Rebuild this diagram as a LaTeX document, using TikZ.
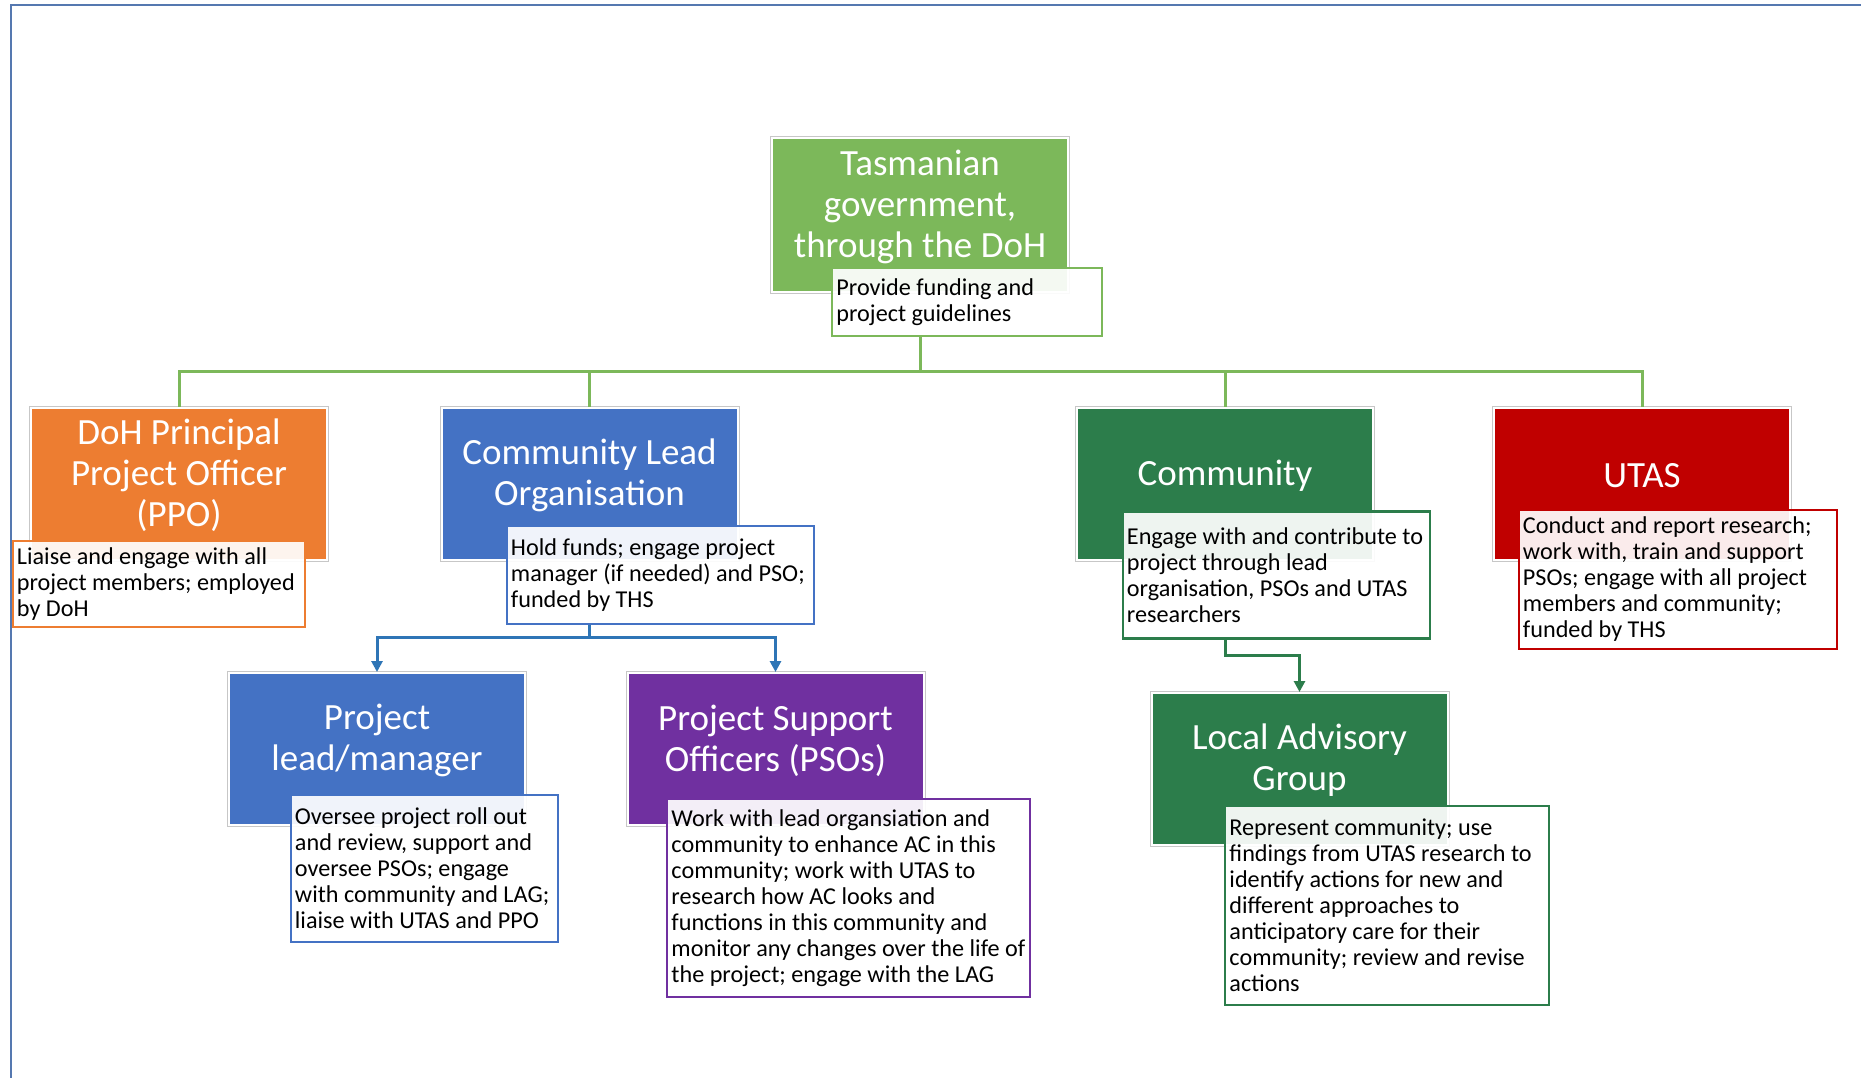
\documentclass[tikz,border=0pt]{standalone}
\usepackage{fontspec}
\setmainfont{Carlito}
\usetikzlibrary{arrows.meta}
\definecolor{lgreen}{HTML}{7CB85A}
\definecolor{orng}{HTML}{ED7D31}
\definecolor{cblue}{HTML}{4472C4}
\definecolor{purp}{HTML}{7030A0}
\definecolor{dgreen}{HTML}{2C7D4B}
\definecolor{cred}{HTML}{C00000}
\definecolor{lblue}{HTML}{2E75B6}
\definecolor{frame}{HTML}{5578B0}
\begin{document}
\begin{tikzpicture}[x=1pt,y=1pt,
  cbox/.style={rectangle, fill=#1, draw=white, line width=2pt,
    preaction={draw=black!22, line width=4pt},
    minimum width=296pt, minimum height=152pt, inner sep=0pt},
  ttl/.style={text=white, align=center, font=\fontsize{37}{41}\selectfont, inner sep=0pt},
  dbox/.style={rectangle, draw=#1, line width=2.5pt, fill=white, fill opacity=0.92, inner sep=0pt},
  dtext/.style={align=left, font=\fontsize{24.2}{26}\selectfont, inner sep=0pt, anchor=west, text=black},
  gline/.style={draw=lgreen, line width=3pt},
  bline/.style={draw=lblue, line width=3pt, -{Triangle[width=11pt,length=11pt]}},
  dline/.style={draw=dgreen, line width=3pt, -{Triangle[width=11pt,length=11pt]}}
]
\useasboundingbox (0,0) rectangle (1861,-1078);
\fill[white] (0,0) rectangle (1861,-1078);
\draw[frame, line width=1.6pt] (11,-1078) -- (11,-5) -- (1861,-5);
\draw[frame, line width=2.2pt] (11,-5) -- (1861,-5);

% coordinates for buses
\coordinate (bus) at (0,-371.5);
\coordinate (bbus) at (0,-637);
\coordinate (dbus) at (0,-655);

% top
\node[cbox=lgreen, minimum height=154pt] (tas) at (920,-215) {};
\node[ttl] (tast) at ([yshift=8.5pt]tas.center) {Tasmanian\\government,\\through the DoH};
\node[dbox=lgreen, minimum width=270pt, minimum height=68pt] (tasd) at (967,-302) {};
\node[dtext] (tasdt) at ([xshift=5.5pt]tasd.west) {Provide funding and\\project guidelines};

% level 2
\node[cbox=orng] (ppo) at (179,-484) {};
\node[ttl] (ppot) at ([yshift=8.5pt]ppo.center) {DoH Principal\\Project Officer\\(PPO)};
\node[cbox=cblue] (clo) at (589.5,-484) {};
\node[ttl] (clot) at ([yshift=8.5pt]clo.center) {Community Lead\\Organisation};
\node[cbox=dgreen] (comm) at (1225,-484) {};
\node[ttl] (commt) at ([yshift=8.5pt]comm.center) {Community};
\node[cbox=cred] (utas) at (1642,-484) {};
\node[ttl] (utast) at ([yshift=8.5pt]utas.center) {UTAS};

\node[dbox=orng, minimum width=292pt, minimum height=86pt] (ppod) at (159,-584) {};
\node[dtext] (ppodt) at ([xshift=5pt]ppod.west) {Liaise and engage with all\\project members; employed\\by DoH};
\node[dbox=cblue, minimum width=307pt, minimum height=98pt] (clod) at (660.5,-575) {};
\node[dtext] (clodt) at ([xshift=5pt]clod.west) {Hold funds; engage project\\manager (if needed) and PSO;\\funded by THS};
\node[dbox=dgreen, minimum width=307pt, minimum height=127pt] (commd) at (1276.5,-575) {};
\node[dtext] (commdt) at ([xshift=5pt]commd.west) {Engage with and contribute to\\project through lead\\organisation, PSOs and UTAS\\researchers};
\node[dbox=cred, minimum width=318pt, minimum height=139pt] (utasd) at (1678,-579.5) {};
\node[dtext] (utasdt) at ([xshift=5pt]utasd.west) {Conduct and report research;\\work with, train and support\\PSOs; engage with all project\\members and community;\\funded by THS};

% level 3
\node[cbox=cblue] (pl) at (377,-749) {};
\node[ttl] (plt) at ([yshift=8.5pt]pl.center) {Project\\lead/manager};
\node[cbox=purp] (pso) at (775.5,-749) {};
\node[ttl] (psot) at ([yshift=8.5pt]pso.center) {Project Support\\Officers (PSOs)};
\node[cbox=dgreen] (lag) at (1299.5,-769) {};
\node[ttl] (lagt) at ([yshift=8.5pt]lag.center) {Local Advisory\\Group};

\node[dbox=cblue, minimum width=267pt, minimum height=147pt] (pld) at (424.5,-868.5) {};
\node[dtext] (pldt) at ([xshift=5pt]pld.west) {Oversee project roll out\\and review, support and\\oversee PSOs; engage\\with community and LAG;\\liaise with UTAS and PPO};
\node[dbox=purp, minimum width=363pt, minimum height=198pt] (psod) at (848.5,-898) {};
\node[dtext] (psodt) at ([xshift=5.5pt]psod.west) {Work with lead organsiation and\\community to enhance AC in this\\community; work with UTAS to\\research how AC looks and\\functions in this community and\\monitor any changes over the life of\\the project; engage with the LAG};
\node[dbox=dgreen, minimum width=324pt, minimum height=199pt] (lagd) at (1387,-905.5) {};
\node[dtext] (lagdt) at ([xshift=5.5pt]lagd.west) {Represent community; use\\findings from UTAS research to\\identify actions for new and\\different approaches to\\anticipatory care for their\\community; review and revise\\actions};

% connectors
\draw[gline] (tas |- tasd.south) -- (tas |- bus) -| (ppo.north);
\draw[gline] (tas |- bus) -| (clo.north);
\draw[gline] (tas |- bus) -| (comm.north);
\draw[gline] (tas |- bus) -| (utas.north);
\draw[bline] (clo |- clod.south) -- (clo |- bbus) -| (pl.north);
\draw[bline] (clo |- bbus) -| (pso.north);
\draw[dline] (comm |- commd.south) -- (comm |- dbus) -| (lag.north);
\end{tikzpicture}
\end{document}
